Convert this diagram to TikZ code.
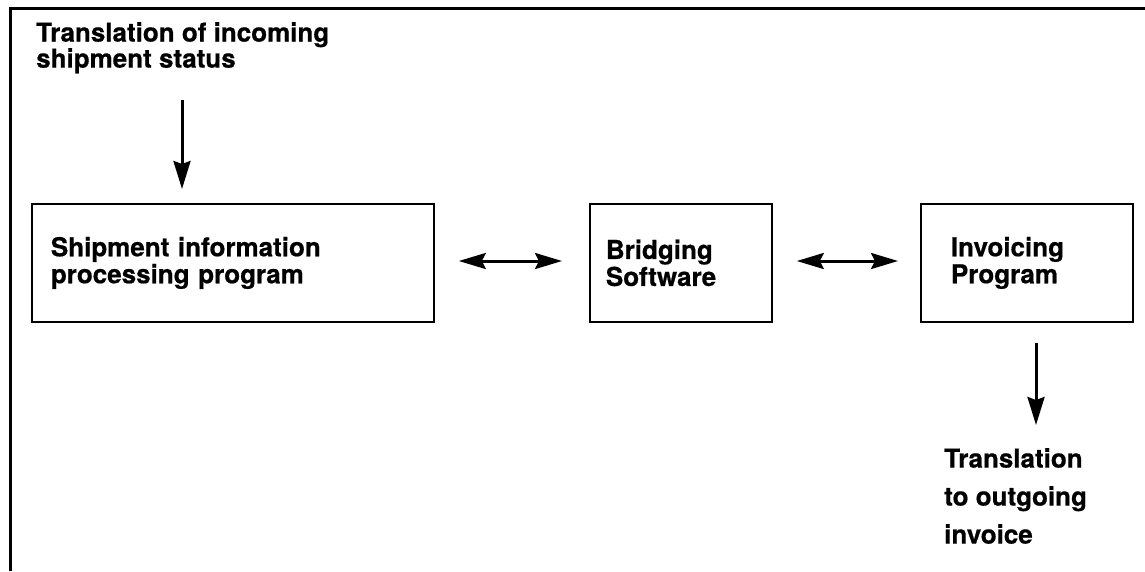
\documentclass[tikz,border=0pt]{standalone}
\usepackage{fontspec}
\setmainfont{TeX Gyre Heros}[BoldFeatures={FakeBold=0.6}]
\usetikzlibrary{arrows.meta}
\begin{document}
\begin{tikzpicture}[x=1pt,y=-1pt,
  lbl/.style={font=\fontsize{26}{25}\selectfont\bfseries, inner sep=0pt, anchor=north west, align=left},
  procbox/.style={draw, line width=1.8pt, font=\fontsize{26}{27}\selectfont\bfseries, align=left,
     minimum height=118pt, anchor=north west, inner ysep=0pt},
  conn/.style={line width=3pt, -{Stealth[length=28pt,width=17pt,inset=3pt]}},
  dconn/.style={line width=3pt, {Stealth[length=27pt,width=16pt,inset=4pt]}-{Stealth[length=27pt,width=16pt,inset=4pt]}}
]
\useasboundingbox (0,0) rectangle (1145,571);
\draw[line width=3pt] (10,571) -- (10,8) -- (1145,8);

\node[lbl] (intext) at (36,22) {Translation of incoming\\shipment status};

\node[procbox, text width=364pt, inner xsep=19pt] (ship) at (31,203) {Shipment information\\processing program};
\node[procbox, text width=150pt, inner xsep=16pt] (bridge) at (589,203) {Bridging\\Software};
\node[procbox, text width=152pt, inner xsep=30pt] (inv) at (920,203) {Invoicing\\Program};

\node[lbl, font=\fontsize{26}{38}\selectfont\bfseries] (outtext) at (944,448) {Translation\\to outgoing\\invoice};

\coordinate (a1) at (182,100);
\draw[conn, shorten >=14pt] (a1) -- (a1 |- ship.north);

\draw[dconn, shorten <=24pt, shorten >=27pt] (ship.east |- 0,261) -- (bridge.west |- 0,261);
\draw[dconn, shorten <=24pt, shorten >=22pt] (bridge.east |- 0,261) -- (inv.west |- 0,261);

\coordinate (a2) at (1036,425);
\draw[conn, shorten <=20pt] (a2 |- inv.south) -- (a2);
\end{tikzpicture}
\end{document}
